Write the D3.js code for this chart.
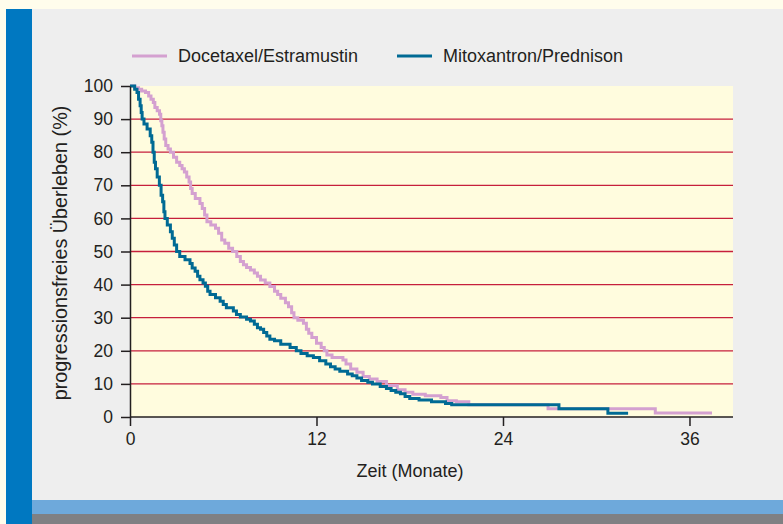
<!DOCTYPE html>
<html>
<head>
<meta charset="utf-8">
<script src="https://cdn.jsdelivr.net/npm/d3@7"></script>
<style>
  html, body { margin: 0; padding: 0; background: #fffdec; }
  svg { display: block; }
  text { font-family: "Liberation Sans", Arial, sans-serif; fill: #231f20; }
</style>
</head>
<body>
<div id="chart"></div>
<script>
// Series data: [Monate, progressionsfreies Überleben %]
const seriesNames = ['Docetaxel/Estramustin', 'Mitoxantron/Prednison'];
const seriesColors = ['#d4a0d0', '#006a94'];

const docetaxel = [
  [0, 100], [0.3, 99.5], [0.55, 99], [0.75, 98.5], [1.0, 98], [1.2, 97], [1.35, 96],
  [1.5, 95], [1.6, 93.5], [1.75, 92.5], [1.9, 91.5], [1.98, 89.5], [2.05, 88],
  [2.12, 86], [2.2, 84], [2.3, 82], [2.45, 81], [2.6, 80], [2.8, 78.5], [3.0, 77],
  [3.2, 76], [3.35, 75], [3.5, 74], [3.65, 72.5], [3.8, 71], [3.9, 69], [4.0, 67.5],
  [4.2, 66], [4.5, 64.5], [4.65, 63], [4.8, 61], [4.95, 59], [5.2, 58], [5.5, 57],
  [5.7, 55.5], [5.9, 53.5], [6.1, 52.5], [6.35, 51], [6.6, 50], [6.87, 48.5],
  [7.1, 47], [7.3, 46], [7.5, 45.2], [7.75, 44.4], [8.0, 43.5], [8.2, 42.5],
  [8.4, 41.4], [8.7, 40.5], [9.0, 39.4], [9.3, 38], [9.5, 37], [9.7, 35.9],
  [10.0, 34.5], [10.2, 33.3], [10.4, 31.5], [10.55, 30], [10.8, 29.2], [11.16, 28.3],
  [11.35, 26.5], [11.5, 25.3], [11.7, 24], [12.0, 22.3], [12.3, 21], [12.5, 20],
  [12.67, 18.7], [13.0, 18], [13.7, 17.2], [13.9, 16], [14.2, 14.5], [14.6, 13.5],
  [15.0, 12.2], [15.4, 11.5], [15.9, 10.7], [16.5, 9.5], [17.2, 8.2], [17.7, 7.5],
  [18.2, 6.9], [19.0, 6.4], [20.0, 5.9], [20.4, 4.9], [21.0, 4.6], [21.8, 3.7],
  [26.9, 2.5], [33.8, 1.2], [37.45, 1.2]
];

const mitoxantron = [
  [0, 100], [0.3, 99], [0.45, 98], [0.55, 96], [0.65, 94], [0.72, 92], [0.78, 90],
  [0.9, 88.5], [1.1, 87], [1.3, 85], [1.4, 83], [1.48, 80], [1.56, 77], [1.64, 75],
  [1.75, 72.5], [1.89, 70], [2.0, 67], [2.1, 65], [2.18, 62], [2.25, 60], [2.4, 58],
  [2.6, 56], [2.72, 54], [2.85, 52], [3.0, 50], [3.2, 48.5], [3.54, 47.5],
  [3.86, 46.4], [4.0, 45], [4.19, 44], [4.35, 42.5], [4.5, 41.5], [4.7, 40.5],
  [4.85, 39.5], [5.0, 38], [5.15, 37], [5.5, 36], [5.8, 35], [6.0, 34], [6.2, 33],
  [6.65, 32], [6.85, 31], [7.1, 30.2], [7.5, 29.5], [7.75, 29], [8.0, 28], [8.2, 27],
  [8.4, 26.5], [8.6, 25.5], [8.8, 24.5], [9.0, 23.5], [9.3, 23], [9.7, 22],
  [10.3, 21], [10.7, 20], [11.0, 19.2], [11.4, 18.5], [11.8, 18], [12.2, 17],
  [12.6, 16], [12.9, 15.2], [13.2, 14.5], [13.5, 13.8], [14.0, 13], [14.3, 12.5],
  [14.6, 11.8], [14.9, 11], [15.3, 10.5], [15.6, 10], [16.1, 9.2], [16.5, 8.6],
  [16.8, 8], [17.1, 7.5], [17.4, 7], [17.7, 6.2], [18.0, 5.6], [18.6, 5.1],
  [19.4, 4.6], [20.3, 4.1], [20.7, 3.7], [27.6, 2.5], [30.75, 1.1], [32.05, 1.1]
];

const xTicks = [0, 12, 24, 36];
const yTicks = [0, 10, 20, 30, 40, 50, 60, 70, 80, 90, 100];
const gridValues = [10, 20, 30, 40, 50, 60, 70, 80, 90];

const W = 783, H = 524;
const plot = { left: 130, right: 733, top: 86, bottom: 417 };

const svg = d3.select('#chart').append('svg')
  .attr('width', W)
  .attr('height', H);

// Page decoration
svg.append('rect').attr('x', 0).attr('y', 0).attr('width', W).attr('height', H).attr('fill', '#fffdec');
svg.append('rect').attr('x', 32).attr('y', 9).attr('width', W - 32).attr('height', 491).attr('fill', '#eeeeee');
svg.append('rect').attr('x', 32).attr('y', 500).attr('width', W - 32).attr('height', 14).attr('fill', '#6ea9db');
svg.append('rect').attr('x', 32).attr('y', 514).attr('width', W - 32).attr('height', 10).attr('fill', '#7f8083');
svg.append('rect').attr('x', 6).attr('y', 9).attr('width', 26).attr('height', H - 9).attr('fill', '#0078c1');

// Scales
const x = d3.scaleLinear().domain([0, 38.8]).range([plot.left, plot.right]);
const y = d3.scaleLinear().domain([0, 100]).range([plot.bottom, plot.top]);

// Plot background
svg.append('rect')
  .attr('x', plot.left).attr('y', plot.top)
  .attr('width', plot.right - plot.left).attr('height', plot.bottom - plot.top)
  .attr('fill', '#fffcde');

// Grid lines
svg.append('g').selectAll('line')
  .data(gridValues)
  .join('line')
  .attr('x1', plot.left).attr('x2', plot.right)
  .attr('y1', d => y(d)).attr('y2', d => y(d))
  .attr('stroke', '#c61f3c')
  .attr('stroke-width', 1.3);

// Curves (Kaplan-Meier steps)
const line = d3.line()
  .curve(d3.curveStepAfter)
  .x(d => x(d[0]))
  .y(d => y(d[1]));

[docetaxel, mitoxantron].forEach((data, i) => {
  svg.append('path')
    .datum(data)
    .attr('fill', 'none')
    .attr('stroke', seriesColors[i])
    .attr('stroke-width', 3)
    .attr('d', line);
});

// Axes
const xAxis = svg.append('g')
  .attr('transform', `translate(0,${plot.bottom})`)
  .call(d3.axisBottom(x).tickValues(xTicks).tickSize(9).tickPadding(7).tickSizeOuter(0));

const yAxis = svg.append('g')
  .attr('transform', `translate(${plot.left},0)`)
  .call(d3.axisLeft(y).tickValues(yTicks).tickSize(9).tickPadding(8).tickSizeOuter(0));

[xAxis, yAxis].forEach(g => {
  g.select('.domain').attr('stroke', '#231f20').attr('stroke-width', 1.5);
  g.selectAll('.tick line').attr('stroke', '#231f20').attr('stroke-width', 1.5);
  g.selectAll('.tick text')
    .attr('fill', '#231f20')
    .style('font-family', '"Liberation Sans", Arial, sans-serif')
    .style('font-size', '17.5px');
});
// bottom axis line spans the whole plot width
xAxis.select('.domain').attr('d', `M${plot.left},0H${plot.right}`);

// Axis titles
svg.append('text')
  .attr('x', 410)
  .attr('y', 477)
  .attr('text-anchor', 'middle')
  .style('font-size', '18px')
  .text('Zeit (Monate)');

svg.append('text')
  .attr('transform', 'translate(67,253) rotate(-90)')
  .attr('text-anchor', 'middle')
  .style('font-size', '19.8px')
  .text('progressionsfreies Überleben (%)');

// Legend
const legendX = [132, 397];
seriesNames.forEach((name, i) => {
  const g = svg.append('g').attr('transform', `translate(${legendX[i]},56)`);
  g.append('line')
    .attr('x1', 0).attr('x2', 35)
    .attr('y1', 0).attr('y2', 0)
    .attr('stroke', seriesColors[i])
    .attr('stroke-width', 3);
  g.append('text')
    .attr('x', 46)
    .attr('y', 6)
    .style('font-size', '18px')
    .text(name);
});
</script>
</body>
</html>
